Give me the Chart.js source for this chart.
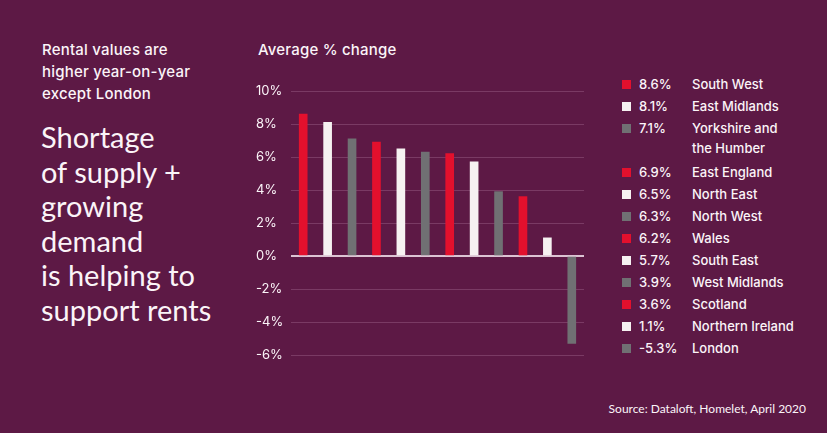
<!DOCTYPE html>
<html>
<head>
<meta charset="utf-8">
<script src="https://cdn.jsdelivr.net/npm/chart.js@4.4.1/dist/chart.umd.min.js"></script>
<style>
  body { margin: 0; background: #5d1945; font-family: Lato, "Noto Sans", sans-serif; color: #fbf4f8; }
  #page { position: relative; width: 827px; height: 433px; overflow: hidden; }
  .intro { position: absolute; left: 42px; top: 39px; font-family: Inter, sans-serif; font-size: 15px; font-weight: 500; line-height: 22px; letter-spacing: 0.2px; }
  .headline { position: absolute; left: 41px; top: 120px; font-size: 29px; line-height: 34.5px; font-weight: 400; }
  .axisTitle { position: absolute; left: 258px; top: 40px; font-family: Inter, sans-serif; font-size: 15px; font-weight: 500; letter-spacing: 0.2px; }
  #wrap { position: absolute; left: 256px; top: 80px; width: 332px; height: 285px; }
  #legend { position: absolute; left: 622px; top: 74px; font-family: Inter, sans-serif; font-size: 13px; font-weight: 500; }
  .row { position: relative; height: 22px; line-height: 20px; }
  .row .sw { position: absolute; left: 0; top: 6px; width: 9px; height: 9px; }
  .row .v { position: absolute; left: 17px; }
  .row .n { position: absolute; left: 70px; width: 140px; }
  .source { position: absolute; right: 21px; top: 401px; font-size: 12px; font-weight: 400; }
</style>
</head>
<body>
<div id="page">
  <div class="intro">Rental values are<br>higher year-on-year<br>except London</div>
  <div class="headline">Shortage<br>of supply +<br>growing<br>demand<br>is helping to<br>support rents</div>
  <div class="axisTitle">Average % change</div>
  <div id="wrap"><canvas id="barChart"></canvas></div>
  <div id="legend"></div>
  <div class="source">Source: Dataloft, Homelet, April 2020</div>
</div>
<script>
var regions = ["South West", "East Midlands", "Yorkshire and the Humber", "East England", "North East", "North West", "Wales", "South East", "West Midlands", "Scotland", "Northern Ireland", "London"];
var changes = [8.6, 8.1, 7.1, 6.9, 6.5, 6.3, 6.2, 5.7, 3.9, 3.6, 1.1, -5.3];
var palette = ["#e3102d", "#f6f1f1", "#707073"];
var barColors = regions.map(function (r, i) { return palette[i % 3]; });

// legend
var legend = document.getElementById('legend');
regions.forEach(function (name, i) {
  var row = document.createElement('div');
  row.className = 'row';
  var label = name === "Yorkshire and the Humber" ? "Yorkshire and<br>the Humber" : name;
  if (name === "Yorkshire and the Humber") row.style.height = '44px';
  row.innerHTML = '<span class="sw" style="background:' + barColors[i] + '"></span>' +
    '<span class="v">' + changes[i].toFixed(1) + '%</span>' +
    '<span class="n">' + label + '</span>';
  legend.appendChild(row);
});

var ctx = document.getElementById('barChart').getContext('2d');
var chart = new Chart(ctx, {
  type: 'bar',
  data: {
    labels: regions,
    datasets: [{
      data: changes,
      backgroundColor: barColors,
      barThickness: 8
    }]
  },
  options: {
    responsive: true,
    maintainAspectRatio: false,
    animation: false,
    layout: { padding: { top: 11, bottom: 10, right: 4, left: 0 } },
    plugins: { legend: { display: false }, tooltip: { enabled: false } },
    scales: {
      x: { display: false },
      y: {
        min: -6,
        max: 10,
        afterFit: function (scale) { scale.width = 35; },
        border: { display: false },
        grid: {
          drawTicks: false,
          color: function (c) { return c.tick && c.tick.value === 0 ? '#dcc3d3' : '#7a3a64'; },
          lineWidth: function (c) { return c.tick && c.tick.value === 0 ? 2 : 1; }
        },
        ticks: {
          stepSize: 2,
          crossAlign: 'far',
          padding: 0,
          color: '#fbf4f8',
          font: { family: 'Inter', size: 13, weight: '400' },
          callback: function (v) { return v + '%'; }
        }
      }
    }
  }
});
</script>
</body>
</html>
